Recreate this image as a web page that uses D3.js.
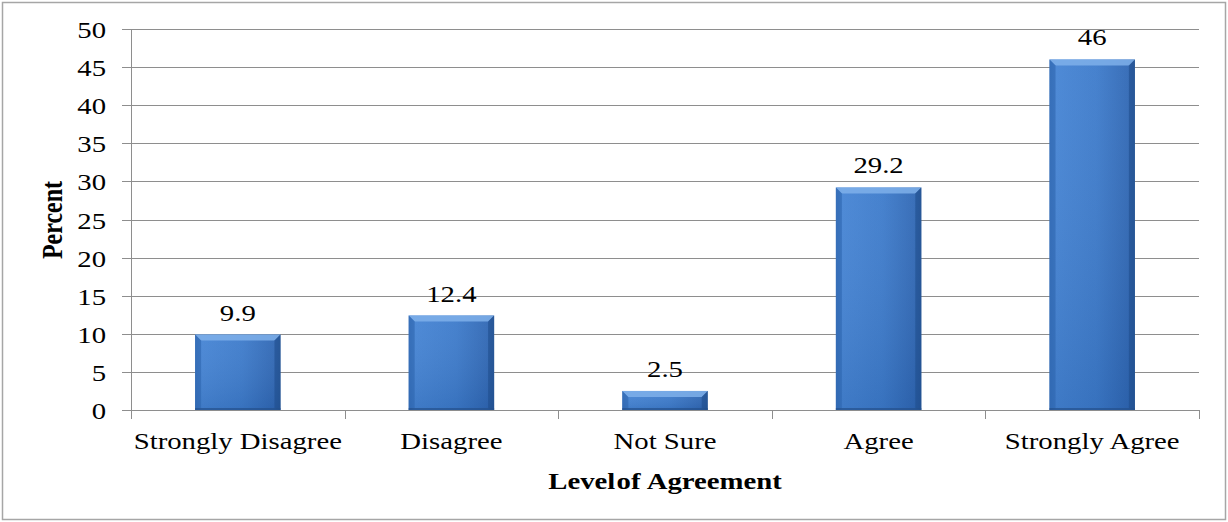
<!DOCTYPE html>
<html>
<head>
<meta charset="utf-8">
<script src="https://cdn.jsdelivr.net/npm/d3@7"></script>
<style>
  html, body { margin: 0; padding: 0; background: #fff; }
  svg { display: block; }
  text { font-family: "Liberation Serif", "Times New Roman", serif; fill: #000; }
</style>
</head>
<body>
<svg id="chart" width="1228" height="522"></svg>
<script>
// Survey responses by level of agreement (percent)
const categories = ["Strongly Disagree", "Disagree", "Not Sure", "Agree", "Strongly Agree"];
const percents = [9.9, 12.4, 2.5, 29.2, 46];
const yTicks = [0, 5, 10, 15, 20, 25, 30, 35, 40, 45, 50];

const W = 1228, H = 522;
const plot = { left: 131, right: 1199, top: 29, bottom: 410 };
const stretch = 1.25; // wide text rendering

const svg = d3.select("#chart");

// outer frame
svg.append("rect")
  .attr("x", 2.5).attr("y", 2.5)
  .attr("width", W - 5).attr("height", H - 5)
  .attr("fill", "#fff").attr("stroke", "#a6a6a6").attr("stroke-width", 1.5);

const x = d3.scaleBand().domain(categories).range([plot.left, plot.right]).paddingInner(0.6).paddingOuter(0.3);
const y = d3.scaleLinear().domain([0, 50]).range([plot.bottom, plot.top]);

const defs = svg.append("defs");
const grad = defs.append("linearGradient").attr("id", "barGrad").attr("x1", 0).attr("x2", 1).attr("y1", 0).attr("y2", 0);
grad.append("stop").attr("offset", "0%").attr("stop-color", "#3a74c2");
grad.append("stop").attr("offset", "8%").attr("stop-color", "#4584d4");
grad.append("stop").attr("offset", "55%").attr("stop-color", "#3d7bcb");
grad.append("stop").attr("offset", "92%").attr("stop-color", "#3068b5");
grad.append("stop").attr("offset", "100%").attr("stop-color", "#2a5c9e");
const vgrad = defs.append("linearGradient").attr("id", "barShade").attr("x1", 0).attr("x2", 0).attr("y1", 0).attr("y2", 1);
vgrad.append("stop").attr("offset", "0%").attr("stop-color", "#ffffff").attr("stop-opacity", 0.05);
vgrad.append("stop").attr("offset", "100%").attr("stop-color", "#0a2a5a").attr("stop-opacity", 0.12);

// gridlines and y ticks
const gridColor = "#8e8e8e";
svg.append("g").selectAll("line").data(yTicks).join("line")
  .attr("x1", plot.left - 9).attr("x2", plot.right)
  .attr("y1", d => Math.round(y(d)) + 0.5).attr("y2", d => Math.round(y(d)) + 0.5)
  .attr("stroke", gridColor).attr("stroke-width", 1);

// y axis line
svg.append("line")
  .attr("x1", plot.left + 0.5).attr("x2", plot.left + 0.5)
  .attr("y1", plot.top).attr("y2", plot.bottom)
  .attr("stroke", gridColor);

// x axis tick marks at category boundaries
const bounds = categories.map(c => x(c) - x.step() * x.paddingInner() / 2);
bounds.push(plot.right);
bounds[0] = plot.left;
svg.append("g").selectAll("line").data(bounds).join("line")
  .attr("x1", d => Math.round(d) + 0.5).attr("x2", d => Math.round(d) + 0.5)
  .attr("y1", plot.bottom).attr("y2", plot.bottom + 9)
  .attr("stroke", gridColor);

// helper for horizontally stretched text
function stretchedText(g, px, py, str, opts) {
  const t = g.append("g").attr("transform", `translate(${px},${py}) scale(${stretch},1)`)
    .append("text").attr("x", 0).attr("y", 0).text(str)
    .attr("font-size", opts.size || 23)
    .attr("text-anchor", opts.anchor || "middle");
  if (opts.bold) t.attr("font-weight", "bold");
  return t;
}

// y tick labels
const yLab = svg.append("g");
yTicks.forEach(v => stretchedText(yLab, 106, y(v) + 9, String(v), { anchor: "end" }));

// bars
const bars = svg.append("g");
categories.forEach((c, i) => {
  const bx = x(c), bw = x.bandwidth(), by = y(percents[i]), bh = y(0) - y(percents[i]);
  const g = bars.append("g");
  g.append("rect").attr("x", bx).attr("y", by).attr("width", bw).attr("height", bh).attr("fill", "url(#barGrad)");
  g.append("rect").attr("x", bx).attr("y", by).attr("width", bw).attr("height", bh).attr("fill", "url(#barShade)");
  const b = Math.min(6, bh / 2);
  // top bevel
  g.append("path").attr("d", `M${bx},${by} L${bx + bw},${by} L${bx + bw - b},${by + b} L${bx + b},${by + b} Z`)
    .attr("fill", "#7fb0ea").attr("opacity", 0.85);
  // side bevels
  g.append("path").attr("d", `M${bx},${by} L${bx + b},${by + b} L${bx + b},${by + bh - 2} L${bx},${by + bh} Z`)
    .attr("fill", "#2f67b0").attr("opacity", 0.6);
  g.append("path").attr("d", `M${bx + bw},${by} L${bx + bw - b},${by + b} L${bx + bw - b},${by + bh - 2} L${bx + bw},${by + bh} Z`)
    .attr("fill", "#1f4f8f").attr("opacity", 0.6);
  g.append("rect").attr("x", bx).attr("y", by + bh - 2).attr("width", bw).attr("height", 2).attr("fill", "#24508c").attr("opacity", 0.7);
  // value label
  stretchedText(g, bx + bw / 2, by - 14, String(percents[i]), {});
});

// category labels
const xLab = svg.append("g");
categories.forEach(c => stretchedText(xLab, x(c) + x.bandwidth() / 2, 449, c, {}));

// axis titles
const title = stretchedText(svg, (plot.left + plot.right) / 2, 489, "", { bold: true, size: 23 });
title.append("tspan").text("Level");
title.append("tspan").attr("dx", 1).text("of");
title.append("tspan").attr("dx", 5).text("Agreement");
svg.append("g").attr("transform", `translate(62,220) rotate(-90) scale(1,${stretch})`)
  .append("text").attr("text-anchor", "middle").attr("font-weight", "bold").attr("font-size", 24).text("Percent");
</script>
</body>
</html>
